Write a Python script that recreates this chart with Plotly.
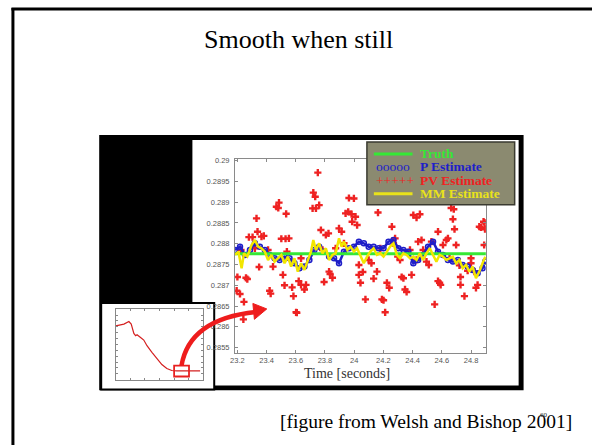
import plotly.graph_objects as go

W, H = 592, 445

def fx(p):
    return p / W

def fy(p):
    return 1 - p / H

# ---------------- data ----------------
truth_t = [23.184, 24.902]
truth_val = [0.28776, 0.28776]

p_t = [23.184, 23.218, 23.252, 23.286, 23.320, 23.354, 23.388, 23.421, 23.455, 23.489,
       23.523, 23.557, 23.591, 23.625, 23.659, 23.693, 23.727, 23.760, 23.794, 23.828,
       23.862, 23.896, 23.930, 23.964, 23.998, 24.032, 24.066, 24.099, 24.133, 24.167,
       24.201, 24.235, 24.269, 24.303, 24.337, 24.371, 24.405, 24.438, 24.472, 24.506,
       24.540, 24.574, 24.608, 24.642, 24.676, 24.710, 24.743, 24.777, 24.811, 24.845,
       24.879, 24.898]
p_val = [0.28785, 0.28793, 0.28773, 0.28785, 0.28801, 0.28793, 0.28785, 0.28773, 0.28765, 0.28761,
         0.28769, 0.28765, 0.28753, 0.28741, 0.28745, 0.28761, 0.28785, 0.28793, 0.28781, 0.28769,
         0.28765, 0.28753, 0.28781, 0.28789, 0.28793, 0.28805, 0.28801, 0.28793, 0.28793, 0.28789,
         0.28789, 0.28805, 0.28809, 0.28789, 0.28785, 0.28781, 0.28753, 0.28761, 0.28773, 0.28793,
         0.28805, 0.28781, 0.28773, 0.28761, 0.28757, 0.28761, 0.28749, 0.28745, 0.28737, 0.28729,
         0.28741, 0.28757]

mm_t = [23.184, 23.207, 23.229, 23.245, 23.268, 23.297, 23.320, 23.342, 23.365, 23.388,
        23.410, 23.433, 23.455, 23.478, 23.501, 23.523, 23.546, 23.568, 23.591, 23.614,
        23.636, 23.659, 23.681, 23.704, 23.720, 23.738, 23.760, 23.783, 23.806, 23.828,
        23.851, 23.873, 23.896, 23.914, 23.930, 23.953, 23.975, 23.998, 24.020, 24.043,
        24.066, 24.088, 24.111, 24.133, 24.156, 24.179, 24.201, 24.224, 24.246, 24.269,
        24.292, 24.314, 24.337, 24.359, 24.382, 24.405, 24.427, 24.450, 24.472, 24.495,
        24.518, 24.540, 24.563, 24.585, 24.608, 24.631, 24.653, 24.676, 24.698, 24.721,
        24.743, 24.766, 24.789, 24.811, 24.834, 24.857, 24.879, 24.898]
mm_val = [0.28773, 0.28781, 0.28741, 0.28777, 0.28769, 0.28797, 0.28809, 0.28793, 0.28789, 0.28781,
          0.28761, 0.28773, 0.28757, 0.28765, 0.28773, 0.28753, 0.28769, 0.28745, 0.28765, 0.28733,
          0.28753, 0.28737, 0.28757, 0.28781, 0.28809, 0.28785, 0.28801, 0.28777, 0.28789, 0.28761,
          0.28773, 0.28777, 0.28813, 0.28793, 0.28805, 0.28785, 0.28793, 0.28781, 0.28789, 0.28773,
          0.28753, 0.28769, 0.28781, 0.28789, 0.28773, 0.28777, 0.28769, 0.28781, 0.28793, 0.28801,
          0.28773, 0.28765, 0.28777, 0.28773, 0.28765, 0.28769, 0.28761, 0.28777, 0.28761, 0.28777,
          0.28789, 0.28773, 0.28757, 0.28773, 0.28769, 0.28761, 0.28765, 0.28769, 0.28753, 0.28761,
          0.28741, 0.28749, 0.28733, 0.28745, 0.28717, 0.28733, 0.28753, 0.28769]

pv_t = [23.200, 23.195, 23.218, 23.245, 23.241, 23.259, 23.268, 23.225, 23.279, 23.304,
        23.331, 23.338, 23.320, 23.349, 23.365, 23.381, 23.421, 23.428, 23.410, 23.444,
        23.467, 23.485, 23.480, 23.534, 23.501, 23.530, 23.553, 23.512, 23.523, 23.539,
        23.575, 23.584, 23.602, 23.607, 23.620, 23.636, 23.659, 23.670, 23.636, 23.715,
        23.720, 23.733, 23.738, 23.760, 23.751, 23.772, 23.783, 23.806, 23.824, 23.794,
        23.828, 23.835, 23.851, 23.873, 23.896, 23.914, 23.930, 23.941, 23.964, 23.998,
        23.959, 23.982, 23.986, 24.009, 24.020, 24.032, 24.032, 24.043, 24.077, 24.059,
        24.099, 24.118, 24.133, 24.156, 24.163, 24.179, 24.190, 24.201, 24.212, 24.224,
        24.240, 24.258, 24.269, 24.280, 24.298, 24.314, 24.325, 24.337, 24.348, 24.359,
        24.382, 24.393, 24.405, 24.427, 24.450, 24.427, 24.438, 24.461, 24.472, 24.495,
        24.511, 24.529, 24.551, 24.574, 24.585, 24.592, 24.574, 24.608, 24.631, 24.642,
        24.653, 24.664, 24.682, 24.676, 24.687, 24.698, 24.721, 24.728, 24.728, 24.755,
        24.777, 24.800, 24.834, 24.845, 24.857, 24.868, 24.886, 24.893, 24.896, 24.890,
        24.800, 24.823]
pv_val = [0.28720, 0.28687, 0.28679, 0.28660, 0.28618, 0.28718, 0.28715, 0.28785, 0.28816, 0.28816,
          0.28861, 0.28829, 0.28789, 0.28744, 0.28817, 0.28819, 0.28687, 0.28680, 0.28785, 0.28745,
          0.28889, 0.28899, 0.28886, 0.28872, 0.28812, 0.28812, 0.28813, 0.28725, 0.28700, 0.28781,
          0.28695, 0.28674, 0.28635, 0.28634, 0.28710, 0.28701, 0.28690, 0.28701, 0.28765, 0.28885,
          0.28923, 0.28913, 0.28885, 0.28893, 0.28971, 0.28833, 0.28785, 0.28821, 0.28825, 0.28708,
          0.28733, 0.28727, 0.28718, 0.28789, 0.28837, 0.28829, 0.28801, 0.28873, 0.28910, 0.28909,
          0.28877, 0.28871, 0.28853, 0.28865, 0.28845, 0.28749, 0.28725, 0.28706, 0.28666, 0.28732,
          0.28761, 0.28753, 0.28716, 0.28733, 0.28875, 0.28789, 0.28666, 0.28664, 0.28635, 0.28706,
          0.28694, 0.28841, 0.28801, 0.28813, 0.28769, 0.28761, 0.28720, 0.28717, 0.28690, 0.28684,
          0.28785, 0.28725, 0.28869, 0.28863, 0.28871, 0.28761, 0.28805, 0.28809, 0.28785, 0.28757,
          0.28749, 0.28805, 0.28654, 0.28710, 0.28706, 0.28701, 0.28829, 0.28797, 0.28809, 0.28813,
          0.28765, 0.28886, 0.28883, 0.28859, 0.28835, 0.28797, 0.28748, 0.28701, 0.28720, 0.28674,
          0.28735, 0.28753, 0.28694, 0.28701, 0.28841, 0.28839, 0.28853, 0.28851, 0.28835, 0.28797,
          0.28765, 0.28733]

y_tick_vals = [0.2855, 0.286, 0.2865, 0.287, 0.2875, 0.288, 0.2885, 0.289, 0.2895, 0.29]
y_tick_text = ["0.2855", "0.286", "0.2865", "0.287", "0.2875", "0.288", "0.2885", "0.289", "0.2895", "0.29"]
x_tick_vals = [23.2, 23.4, 23.6, 23.8, 24.0, 24.2, 24.4, 24.6, 24.8]
x_tick_text = ["23.2", "23.4", "23.6", "23.8", "24", "24.2", "24.4", "24.6", "24.8"]

# inset overview curve
inset_t = [0, 2.8, 4.5, 5.3, 6.2, 6.8, 7.3, 7.9, 8.5, 9.6, 10.7, 12.4, 14.1, 15.8, 17.5, 19.2, 20.9, 28.9]
inset_val = [0.765, 0.789, 0.825, 0.789, 0.656, 0.624, 0.638, 0.614, 0.600, 0.563, 0.483, 0.389,
             0.296, 0.215, 0.159, 0.131, 0.127, 0.127]

legend_marks = ["", "ooooo", "+++++", ""]
legend_names = ["Truth", "P Estimate", "PV Estimate", "MM Estimate"]

C_GREEN = "#35e835"
C_BLUE = "#1f1fc8"
C_RED = "#ee2222"
C_YELLOW = "#f2e600"
legend_colors = [C_GREEN, C_BLUE, C_RED, "#e9e21a"]

fig = go.Figure()

fig.add_trace(go.Scatter(x=pv_t, y=pv_val, mode="markers", name="PV Estimate",
                         marker=dict(symbol="cross", size=6, color=C_RED,
                                     line=dict(width=0)),
                         xaxis="x", yaxis="y", showlegend=False))
fig.add_trace(go.Scatter(x=p_t, y=p_val, mode="lines+markers", name="P Estimate",
                         line=dict(color=C_BLUE, width=2.5),
                         marker=dict(symbol="circle-open", size=5, color=C_BLUE,
                                     line=dict(width=1.5, color=C_BLUE)),
                         xaxis="x", yaxis="y", showlegend=False))
fig.add_trace(go.Scatter(x=truth_t, y=truth_val, mode="lines", name="Truth",
                         line=dict(color=C_GREEN, width=3),
                         xaxis="x", yaxis="y", showlegend=False))
fig.add_trace(go.Scatter(x=mm_t, y=mm_val, mode="lines", name="MM Estimate",
                         line=dict(color=C_YELLOW, width=2.5),
                         xaxis="x", yaxis="y", showlegend=False))
fig.add_trace(go.Scatter(x=inset_t, y=inset_val, mode="lines", name="overview",
                         line=dict(color="#d42020", width=1.2),
                         xaxis="x2", yaxis="y2", showlegend=False))

axis_font = dict(family="Liberation Sans, Arial", size=7.5, color="#555555")

fig.update_layout(
    width=W, height=H, autosize=False,
    margin=dict(l=0, r=0, t=0, b=0, pad=0),
    paper_bgcolor="white", plot_bgcolor="rgba(0,0,0,0)",
    hovermode=False,
    xaxis=dict(domain=[fx(232), fx(485)], range=[23.184, 24.902], anchor="y",
               showgrid=False, zeroline=False, showline=True, mirror="ticks",
               linecolor="#8a8a8a", linewidth=1, ticks="inside", ticklen=3,
               tickcolor="#8a8a8a", tickvals=x_tick_vals, ticktext=x_tick_text,
               tickfont=axis_font, ticklabelstandoff=0),
    yaxis=dict(domain=[fy(352), fy(157)], range=[0.28538, 0.29004], anchor="x",
               showgrid=False, zeroline=False, showline=True, mirror="ticks",
               linecolor="#8a8a8a", linewidth=1, ticks="inside", ticklen=3,
               tickcolor="#8a8a8a", tickvals=y_tick_vals, ticktext=y_tick_text,
               tickfont=axis_font, ticklabelstandoff=3),
    xaxis2=dict(domain=[fx(111.7), fx(200)], range=[0, 30], anchor="y2",
                showgrid=False, zeroline=False, showline=True, mirror="ticks",
                linecolor="#888888", linewidth=1, ticks="inside", ticklen=2,
                tickcolor="#888888", dtick=5, showticklabels=False),
    yaxis2=dict(domain=[fy(379.3), fy(308.3)], range=[0, 1], anchor="x2",
                showgrid=False, zeroline=False, showline=True, mirror="ticks",
                linecolor="#888888", linewidth=1, ticks="inside", ticklen=2,
                tickcolor="#888888", dtick=1 / 12, showticklabels=False),
)

shapes = []
# slide frame (left and top edges visible)
shapes.append(dict(type="line", xref="paper", yref="paper",
                   x0=fx(8), x1=fx(8), y0=0, y1=fy(5),
                   line=dict(color="black", width=3), layer="below"))
shapes.append(dict(type="line", xref="paper", yref="paper",
                   x0=fx(6.5), x1=1, y0=fy(6), y1=fy(6),
                   line=dict(color="black", width=3), layer="below"))
# black photo background
shapes.append(dict(type="rect", xref="paper", yref="paper",
                   x0=fx(95), x1=fx(523), y0=fy(390), y1=fy(133),
                   line=dict(width=0), fillcolor="black", layer="below"))
# white figure panel
shapes.append(dict(type="rect", xref="paper", yref="paper",
                   x0=fx(189), x1=fx(518), y0=fy(385), y1=fy(138),
                   line=dict(width=0), fillcolor="white", layer="below"))
# inset panel
shapes.append(dict(type="rect", xref="paper", yref="paper",
                   x0=fx(97), x1=fx(211), y0=fy(389), y1=fy(302),
                   line=dict(color="black", width=2), fillcolor="white", layer="below"))
# legend box
shapes.append(dict(type="rect", xref="paper", yref="paper",
                   x0=fx(365), x1=fx(514), y0=fy(203), y1=fy(140),
                   line=dict(color="#3a3a30", width=1.5), fillcolor="#8b8a70", layer="above"))
legend_rows = [152, 165, 178.5, 192]
for i, yy in enumerate(legend_rows):
    if legend_marks[i] == "":
        shapes.append(dict(type="line", xref="paper", yref="paper",
                           x0=fx(372), x1=fx(411), y0=fy(yy), y1=fy(yy),
                           line=dict(color=legend_colors[i], width=3), layer="above"))
# inset highlight rectangle
shapes.append(dict(type="rect", xref="x2", yref="y2", x0=20.0, x1=25.1, y0=0.046, y1=0.2,
                   line=dict(color="#e82020", width=1.8), fillcolor="rgba(0,0,0,0)", layer="above"))
# curved arrow
arrow_path = "M {},{} Q {},{} {},{}".format(fx(178), fy(365), fx(186), fy(318), fx(253), fy(311))
shapes.append(dict(type="path", xref="paper", yref="paper", path=arrow_path,
                   line=dict(color="#ee1c1c", width=4.5), layer="above"))
head_path = "M {},{} L {},{} L {},{} Z".format(fx(264), fy(308), fx(250), fy(302.5), fx(251.5), fy(318.5))
shapes.append(dict(type="path", xref="paper", yref="paper", path=head_path,
                   line=dict(color="#ee1c1c", width=1), fillcolor="#ee1c1c", layer="above"))
fig.update_layout(shapes=shapes)

ann = []
ann.append(dict(text="Smooth when still", x=fx(296), y=fy(37), xref="paper", yref="paper",
                xanchor="center", yanchor="middle", showarrow=False,
                font=dict(family="Liberation Serif, Times New Roman", size=26, color="black")))
ann.append(dict(text="Time [seconds]", x=fx(345), y=fy(373.5), xref="paper", yref="paper",
                xanchor="center", yanchor="middle", showarrow=False,
                font=dict(family="Liberation Serif, Times New Roman", size=14, color="#333333")))
ann.append(dict(text="[figure from Welsh and Bishop 2001]", x=fx(275), y=fy(421), xref="paper", yref="paper",
                xanchor="left", yanchor="middle", showarrow=False,
                font=dict(family="Liberation Serif, Times New Roman", size=19.5, color="black")))
ann.append(dict(text="60", x=fx(544), y=fy(415), xref="paper", yref="paper",
                xanchor="center", yanchor="middle", showarrow=False,
                font=dict(family="Liberation Serif, Times New Roman", size=7, color="#222222")))
for i, yy in enumerate(legend_rows):
    if legend_marks[i]:
        ann.append(dict(text=legend_marks[i], x=fx(372), y=fy(yy), xref="paper", yref="paper",
                        xanchor="left", yanchor="middle", showarrow=False,
                        font=dict(family="Liberation Serif, Times New Roman", size=13.5,
                                  color=legend_colors[i])))
    ann.append(dict(text="<b>" + legend_names[i] + "</b>", x=fx(417), y=fy(yy), xref="paper", yref="paper",
                    xanchor="left", yanchor="middle", showarrow=False,
                    font=dict(family="Liberation Serif, Times New Roman", size=13.5,
                              color=legend_colors[i])))
fig.update_layout(annotations=ann)

fig.write_html("out.html", config={"displayModeBar": False, "staticPlot": True},
               post_script=("document.body.style.margin='0px';document.body.style.padding='0px';"
                            "document.body.style.overflow='hidden';"
                            "document.documentElement.style.overflow='hidden';"))
